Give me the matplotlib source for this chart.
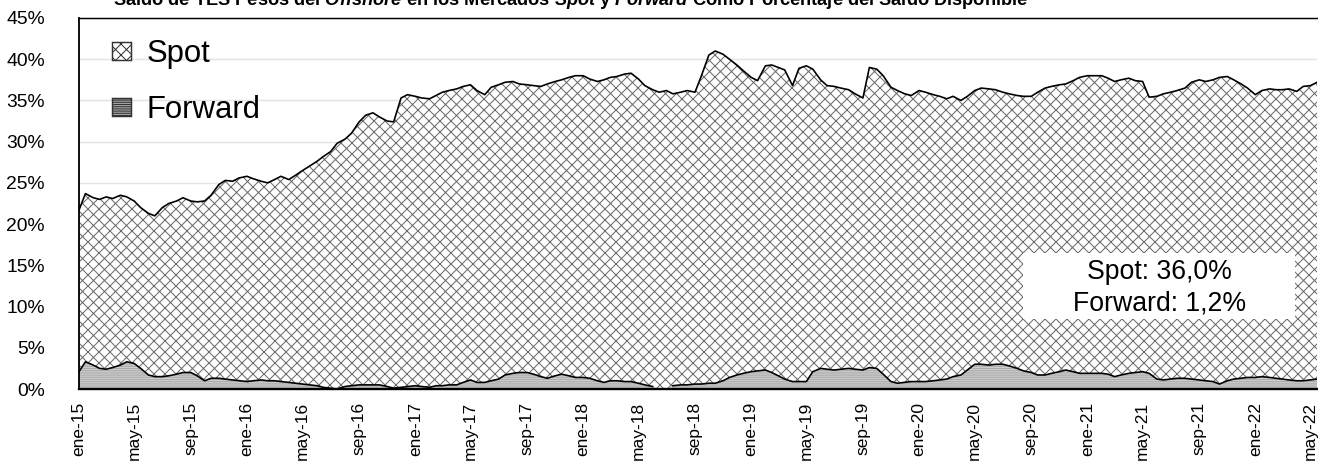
import numpy as np
import pandas as pd
import matplotlib
matplotlib.use("Agg")
import matplotlib.pyplot as plt
from matplotlib.patches import Patch, Rectangle

DPI = 132
W, H = 1318, 464

# ---------------- data (semi-monthly readings, % of available balance) ----------------
start_date = "2015-01-01"

# top of the stacked area (Spot + Forward)
spot_top = [
    21.7, 23.7, 23.2, 23.0, 23.3, 23.1, 23.5, 23.3, 22.8, 22.0, 21.3, 21.0,
    22.0, 22.5, 22.8, 23.2, 22.8, 22.7, 22.8, 23.5, 24.8, 25.3, 25.2, 25.6,
    25.8, 25.5, 25.2, 25.0, 25.4, 25.8, 25.4, 25.9, 26.5, 27.0, 27.6, 28.2,
    28.8, 29.8, 30.3, 31.0, 32.4, 33.2, 33.5, 33.0, 32.5, 32.4, 35.3, 35.7,
    35.5, 35.3, 35.2, 35.6, 36.0, 36.2, 36.4, 36.7, 36.9, 36.2, 35.7, 36.6,
    36.9, 37.2, 37.3, 37.0, 36.9, 36.8, 36.7, 37.0, 37.3, 37.5, 37.8, 38.0,
    38.0, 37.6, 37.3, 37.5, 37.8, 37.9, 38.2, 38.3, 37.6, 36.8, 36.3, 36.0,
    36.2, 35.8, 36.0, 36.2, 36.0, 38.0, 40.5, 41.0, 40.6, 40.0, 39.3, 38.6,
    37.8, 37.4, 39.2, 39.3, 39.0, 38.7, 36.8, 38.9, 39.2, 38.8, 37.5, 36.8,
    36.7, 36.5, 36.3, 35.8, 35.3, 39.0, 38.8, 38.0, 36.6, 36.2, 35.8, 35.6,
    36.2, 36.0, 35.7, 35.5, 35.2, 35.5, 35.0, 35.5, 36.2, 36.5, 36.4, 36.3,
    36.0, 35.8, 35.6, 35.5, 35.5, 36.0, 36.5, 36.7, 36.9, 37.0, 37.4, 37.8,
    38.0, 38.0, 38.0, 37.7, 37.3, 37.5, 37.7, 37.4, 37.3, 35.4, 35.5, 35.8,
    36.0, 36.2, 36.5, 37.2, 37.5, 37.3, 37.5, 37.8, 37.9, 37.5, 37.0, 36.5,
    35.7, 36.2, 36.4, 36.3, 36.3, 36.4, 36.1, 36.7, 36.8, 37.2,
]

forward = [
    2.1, 3.3, 2.9, 2.5, 2.4, 2.6, 2.9, 3.3, 3.1, 2.5, 1.7, 1.5,
    1.5, 1.6, 1.8, 2.0, 2.0, 1.6, 1.0, 1.3, 1.3, 1.2, 1.1, 1.0,
    0.9, 1.0, 1.1, 1.0, 1.0, 0.9, 0.8, 0.7, 0.6, 0.5, 0.4, 0.2,
    0.1, 0.0, 0.3, 0.4, 0.5, 0.5, 0.5, 0.5, 0.3, 0.1, 0.2, 0.3,
    0.4, 0.3, 0.2, 0.4, 0.4, 0.5, 0.5, 0.8, 1.1, 0.8, 0.8, 1.0,
    1.2, 1.7, 1.9, 2.0, 2.0, 1.8, 1.5, 1.3, 1.6, 1.8, 1.6, 1.4,
    1.4, 1.3, 1.0, 0.8, 1.0, 1.0, 0.9, 0.9, 0.7, 0.5, 0.3, None,
    None, 0.4, 0.5, 0.5, 0.6, 0.6, 0.7, 0.7, 1.0, 1.4, 1.7, 1.9,
    2.1, 2.2, 2.3, 2.0, 1.6, 1.2, 0.9, 0.9, 0.9, 2.1, 2.5, 2.4,
    2.3, 2.4, 2.5, 2.4, 2.3, 2.6, 2.5, 1.8, 0.9, 0.7, 0.8, 0.9,
    0.9, 0.9, 1.0, 1.1, 1.2, 1.5, 1.7, 2.3, 3.0, 3.0, 2.9, 3.0,
    3.0, 2.8, 2.5, 2.2, 2.0, 1.7, 1.7, 1.9, 2.1, 2.3, 2.1, 1.9,
    1.9, 1.9, 1.9, 1.8, 1.5, 1.7, 1.9, 2.0, 2.1, 1.9, 1.2, 1.1,
    1.2, 1.3, 1.3, 1.2, 1.1, 1.0, 0.9, 0.6, 1.0, 1.2, 1.3, 1.4,
    1.4, 1.5, 1.4, 1.3, 1.2, 1.1, 1.0, 1.0, 1.1, 1.2,
]

tick_labels = [
    "ene-15", "may-15", "sep-15", "ene-16", "may-16", "sep-16", "ene-17",
    "may-17", "sep-17", "ene-18", "may-18", "sep-18", "ene-19", "may-19",
    "sep-19", "ene-20", "may-20", "sep-20", "ene-21", "may-21", "sep-21",
    "ene-22", "may-22",
]
y_ticks = [0, 5, 10, 15, 20, 25, 30, 35, 40, 45]
series_names = ["Spot", "Forward"]
last_spot = "36,0%"
last_forward = "1,2%"

title = (r"Saldo de TES Pesos del $\mathit{Offshore}$ en los Mercados "
         r"$\mathit{Spot}$ y $\mathit{Forward}$ Como Porcentaje del Saldo Disponible")

# ---------------- derived ----------------
dates = pd.date_range(start_date, periods=len(forward), freq="SMS")
fwd_line = np.array([np.nan if v is None else v for v in forward], dtype=float)
fwd_fill = np.nan_to_num(fwd_line, nan=0.0)
spot = np.round(np.array(spot_top) - fwd_fill, 1)
top = fwd_fill + spot
tick_dates = pd.date_range(start_date, periods=len(tick_labels), freq="4MS")

# ---------------- style ----------------
plt.rcParams["font.family"] = ["Liberation Sans", "DejaVu Sans"]
plt.rcParams["mathtext.fontset"] = "custom"
plt.rcParams["mathtext.it"] = "Liberation Sans:italic:bold"
plt.rcParams["mathtext.rm"] = "Liberation Sans:bold"
plt.rcParams["mathtext.bf"] = "Liberation Sans:bold"
plt.rcParams["hatch.linewidth"] = 0.55

fig = plt.figure(figsize=(W / DPI, H / DPI), dpi=DPI)
L, R, T, B = 79, 1317, 18, 389
ax = fig.add_axes([L / W, 1 - B / H, (R - L) / W, (B - T) / H])

ax.fill_between(dates, 0, fwd_fill, facecolor="#a3a3a3", edgecolor="#d2d2d2",
                hatch="-" * 12, linewidth=0, zorder=2)
ax.fill_between(dates, fwd_fill, top, facecolor="white", edgecolor="#6a6a6a",
                hatch="xxxx", linewidth=0, zorder=2)
ax.plot(dates, top, color="black", lw=0.9, zorder=3)
ax.plot(dates, fwd_line, color="black", lw=0.9, zorder=3)

ax.set_xlim(dates[0], dates[-1])
ax.set_ylim(0, 45)
ax.set_yticks(y_ticks)
ax.set_yticklabels([f"{v}%" for v in y_ticks], fontsize=10.5)
ax.set_xticks(tick_dates)
ax.set_xticklabels(tick_labels, rotation=90, fontsize=9.5, ha="center", va="top")
ax.tick_params(axis="both", length=0)
ax.tick_params(axis="y", pad=18.5)
ax.tick_params(axis="x", pad=7)

ax.yaxis.grid(True, color="#e3e3e3", lw=0.8)
ax.set_axisbelow(True)
ax.spines["right"].set_visible(False)
ax.spines["top"].set_linewidth(0.8)
ax.spines["left"].set_linewidth(1.0)
ax.spines["bottom"].set_linewidth(1.3)
for s in ("top", "left", "bottom"):
    ax.spines[s].set_color("black")

handles = [
    Patch(facecolor="white", edgecolor="#333333", hatch="xxxx", lw=0.8),
    Patch(facecolor="#a3a3a3", edgecolor="#333333", hatch="-" * 10, lw=0.8),
]
ax.legend(handles, series_names, loc="upper left",
          bbox_to_anchor=(112 / W, 1 - 39 / H), bbox_transform=fig.transFigure,
          frameon=False, fontsize=17, handlelength=0.62, handleheight=0.48,
          handletextpad=0.5, labelspacing=0.84, borderaxespad=0, borderpad=0)

# value box
fig.add_artist(Rectangle((1023 / W, 1 - 319 / H), 272 / W, 66 / H,
                         transform=fig.transFigure, facecolor="white",
                         edgecolor="none", zorder=5))
fig.text(1159 / W, 1 - 272 / H, f"{series_names[0]}: {last_spot}", ha="center",
         va="center", fontsize=14.5, zorder=6)
fig.text(1160 / W, 1 - 303 / H, f"{series_names[1]}: {last_forward}", ha="center",
         va="center", fontsize=14.5, zorder=6)

# title (clipped at the top edge, as in the reference)
t = fig.text(570.5 / W, 1 - 5 / H, title, ha="center", va="baseline",
             fontsize=10, fontweight="bold")
fig.canvas.draw()
w = t.get_window_extent().width
t.set_fontsize(10 * 919 / w)

fig.savefig("out.png", dpi=DPI)
